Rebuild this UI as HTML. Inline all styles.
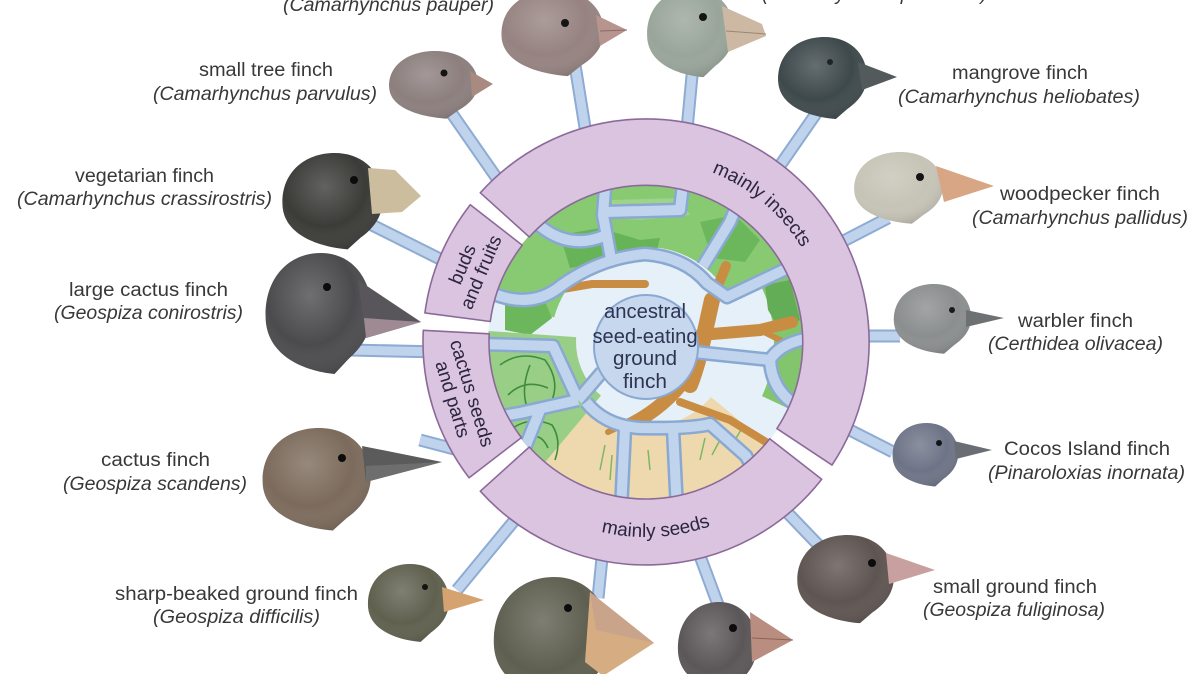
<!DOCTYPE html>
<html><head><meta charset="utf-8"><style>
html,body{margin:0;padding:0;background:#fff;}
svg{display:block;}
.lb{font-family:"Liberation Sans",Arial,sans-serif;font-size:19px;fill:#383838;}
.it{font-style:italic;}
.rt{font-family:"Liberation Sans",Arial,sans-serif;font-size:19px;fill:#2c2540;}
.ct{font-family:"Liberation Sans",Arial,sans-serif;font-size:20px;fill:#2d3452;}
</style></head><body>
<svg width="1200" height="674" viewBox="0 0 1200 674" xmlns="http://www.w3.org/2000/svg">
<defs>
<path id="head" d="M -0.95,0.15 C -1.0,-0.55 -0.55,-1.0 0.05,-1.0 C 0.6,-1.0 0.95,-0.6 0.98,-0.05 C 0.98,0.35 0.8,0.6 0.55,0.8 L 0.3,1.05 C -0.25,1.0 -0.9,0.75 -0.95,0.15 Z"/>
<radialGradient id="shade" cx="0.42" cy="0.35" r="0.75">
<stop offset="0" stop-color="#fff" stop-opacity="0.2"/>
<stop offset="0.55" stop-color="#fff" stop-opacity="0"/>
<stop offset="1" stop-color="#000" stop-opacity="0.22"/>
</radialGradient>
<clipPath id="sc"><circle cx="646" cy="342" r="158"/></clipPath>
<path id="tpI" d="M614.4,162.8 A182,182 0 0 1 828,342"/>
<path id="tpS" d="M520.7,491.4 A195,195 0 0 0 786.3,477.5"/>
</defs>
<rect width="1200" height="674" fill="#fff"/>

<!-- SCENE -->
<g clip-path="url(#sc)">
<circle cx="646" cy="342" r="160" fill="#e6f0f9"/>
<!-- top green -->
<path d="M486.6,299.3 A165,165 0 0 1 795.5,272.3 L732.1,301.9 A95,95 0 0 0 554.2,317.4 Z" fill="#88ca72"/>
<path d="M788.9,259.5 A165,165 0 0 1 795.5,411.7 L762.0,396.1 A128,128 0 0 0 756.8,278.0 Z" fill="#82c56d"/>
<polygon points="560,235 600,228 640,240 660,238 655,258 610,262 570,268" fill="#66b358"/>
<polygon points="700,222 735,215 760,240 745,262 712,258" fill="#6cb75c"/>
<polygon points="765,285 790,280 800,320 780,330 768,310" fill="#62ad55"/>
<polygon points="505,300 540,290 552,318 530,335 505,330" fill="#6cb75c"/>
<polygon points="612,200 680,198 690,215 640,220 612,218" fill="#9dd48a"/>
<!-- bottom beige -->
<path d="M772.4,448.1 A165,165 0 0 1 529.3,458.7 L584,400 A85,85 0 0 0 711,397 Z" fill="#eed9ae"/>
<!-- cactus lower left -->
<path d="M539.9,468.4 A165,165 0 0 1 481.4,330.5 L576.2,337.1 A70,70 0 0 0 601.0,395.6 Z" fill="#99ce87"/>
<g fill="none" stroke="#3e8c3c" stroke-width="1.6">
<path d="M500,365 Q520,350 545,360 Q560,380 552,400"/>
<path d="M508,395 Q525,378 548,388"/>
<path d="M510,430 Q530,415 552,425 Q562,440 555,460"/>
<path d="M530,365 Q520,390 528,410"/>
<path d="M525,440 Q540,430 548,448"/>
</g>
<!-- grass -->
<g fill="none" stroke="#7cb862" stroke-width="1.5">
<path d="M600,470 L605,445 M610,480 L612,455 M700,460 L705,438 M712,455 L720,440 M735,440 L742,428 M650,470 L648,450"/>
</g>
<!-- brown tree -->
<g fill="none" stroke="#c88c42" stroke-linecap="round" stroke-linejoin="round">
<path d="M690,385 C700,360 705,330 712,300" stroke-width="16"/>
<path d="M700,335 L760,330 L792,322" stroke-width="12"/>
<path d="M712,300 L726,266" stroke-width="10"/>
<path d="M645,284 L592,284 L545,292" stroke-width="8"/>
<path d="M686,378 C670,400 650,415 628,426" stroke-width="14"/>
<path d="M680,402 L730,420 L766,442" stroke-width="8"/>
<path d="M650,412 L608,432" stroke-width="6"/>
<path d="M760,330 L790,345" stroke-width="6"/>
</g>
<!-- phylogeny lines -->
<g fill="none" stroke="#8aa9d2" stroke-width="15" stroke-linejoin="round">
<path d="M485,290 Q530,312 562,285 Q600,258 645,254 Q685,257 707,283 L727,297 L805,260"/>
<path d="M611,259 L603,215 L606,175"/>
<path d="M540,226 Q570,250 604,236"/>
<path d="M605,212 L680,210 L684,175"/>
<path d="M703,266 L730,222 L745,185"/>
<path d="M694,352 L770,360 Q780,343 810,338"/>
<path d="M770,360 Q772,395 805,410"/>
<path d="M586,402 Q605,426 640,428 Q690,429 710,424 L746,456 L762,485"/>
<path d="M625,428 L621,510"/>
<path d="M673,429 L677,510"/>
<path d="M480,344 L553,346 L578,400"/>
<path d="M578,400 L520,413 L480,420"/>
<path d="M540,410 L522,455 L500,475"/>
<path d="M602,372 L578,400"/>
</g>
<g fill="none" stroke="#c0d4ed" stroke-width="10" stroke-linejoin="round">
<path d="M485,290 Q530,312 562,285 Q600,258 645,254 Q685,257 707,283 L727,297 L805,260"/>
<path d="M611,259 L603,215 L606,175"/>
<path d="M540,226 Q570,250 604,236"/>
<path d="M605,212 L680,210 L684,175"/>
<path d="M703,266 L730,222 L745,185"/>
<path d="M694,352 L770,360 Q780,343 810,338"/>
<path d="M770,360 Q772,395 805,410"/>
<path d="M586,402 Q605,426 640,428 Q690,429 710,424 L746,456 L762,485"/>
<path d="M625,428 L621,510"/>
<path d="M673,429 L677,510"/>
<path d="M480,344 L553,346 L578,400"/>
<path d="M578,400 L520,413 L480,420"/>
<path d="M540,410 L522,455 L500,475"/>
<path d="M602,372 L578,400"/>
</g>
<circle cx="646" cy="347" r="52" fill="#c7d7ee" stroke="#8aa9d2" stroke-width="2"/>
</g>
<text class="ct" x="645" y="318" text-anchor="middle" textLength="82" lengthAdjust="spacingAndGlyphs">ancestral</text>
<text class="ct" x="645" y="343" text-anchor="middle" textLength="105" lengthAdjust="spacingAndGlyphs">seed-eating</text>
<text class="ct" x="645" y="365" text-anchor="middle" textLength="64" lengthAdjust="spacingAndGlyphs">ground</text>
<text class="ct" x="645" y="388" text-anchor="middle" textLength="44" lengthAdjust="spacingAndGlyphs">finch</text>

<!-- STEMS -->
<g stroke-linecap="butt" fill="none">
<g stroke="#8eabd3" stroke-width="13">
<line x1="587" y1="140" x2="575" y2="65"/>
<line x1="686" y1="140" x2="693" y2="65"/>
<line x1="512" y1="200" x2="448" y2="108"/>
<line x1="770" y1="180" x2="822" y2="105"/>
<line x1="452" y1="265" x2="372" y2="225"/>
<line x1="830" y1="248" x2="888" y2="218"/>
<line x1="440" y1="352" x2="350" y2="350"/>
<line x1="850" y1="336" x2="900" y2="336"/>
<line x1="458" y1="450" x2="420" y2="440"/>
<line x1="840" y1="425" x2="893" y2="452"/>
<line x1="780" y1="505" x2="828" y2="555"/>
<line x1="697" y1="548" x2="720" y2="610"/>
<line x1="603" y1="548" x2="598" y2="598"/>
<line x1="523" y1="510" x2="457" y2="590"/>
</g>
<g stroke="#bfd3ec" stroke-width="9">
<line x1="587" y1="140" x2="575" y2="65"/>
<line x1="686" y1="140" x2="693" y2="65"/>
<line x1="512" y1="200" x2="448" y2="108"/>
<line x1="770" y1="180" x2="822" y2="105"/>
<line x1="452" y1="265" x2="372" y2="225"/>
<line x1="830" y1="248" x2="888" y2="218"/>
<line x1="440" y1="352" x2="350" y2="350"/>
<line x1="850" y1="336" x2="900" y2="336"/>
<line x1="458" y1="450" x2="420" y2="440"/>
<line x1="840" y1="425" x2="893" y2="452"/>
<line x1="780" y1="505" x2="828" y2="555"/>
<line x1="697" y1="548" x2="720" y2="610"/>
<line x1="603" y1="548" x2="598" y2="598"/>
<line x1="523" y1="510" x2="457" y2="590"/>
</g>
</g>

<!-- RING -->
<g fill="#dac4e0" stroke="#8b6a99" stroke-width="1.6" stroke-linejoin="round">
<path d="M480.3,192.8 A223,223 0 0 1 832.0,465.1 L776.9,428.6 A157,157 0 0 0 529.3,237.0 Z"/>
<path d="M821.7,479.3 A223,223 0 0 1 480.3,491.2 L529.3,447.0 A157,157 0 0 0 769.7,438.7 Z"/>
<path d="M469.1,477.8 A223,223 0 0 1 423.3,330.3 L489.2,333.8 A157,157 0 0 0 521.4,437.6 Z"/>
<path d="M424.9,312.9 A223,223 0 0 1 470.3,204.7 L522.3,245.3 A157,157 0 0 0 490.3,321.5 Z"/>
</g>
<text class="rt"><textPath href="#tpI" startOffset="50%" text-anchor="middle">mainly insects</textPath></text>
<text class="rt"><textPath href="#tpS" startOffset="50%" text-anchor="middle">mainly seeds</textPath></text>
<g transform="translate(471,268) rotate(-67)">
<text class="rt" x="0" y="-3" text-anchor="middle">buds</text>
<text class="rt" x="0" y="17" text-anchor="middle">and fruits</text>
</g>
<g transform="translate(463,396) rotate(73)">
<text class="rt" x="0" y="-3" text-anchor="middle">cactus seeds</text>
<text class="rt" x="0" y="17" text-anchor="middle">and parts</text>
</g>

<!-- BIRDS -->
<!-- pauper -->
<use href="#head" transform="translate(552,32) scale(53,42)" fill="#968381"/>
<use href="#head" transform="translate(552,32) scale(53,42)" fill="url(#shade)"/>
<polygon points="596,15 627,30 600,46" fill="#b8948f"/>
<line x1="600" y1="31" x2="627" y2="30" stroke="#8a6a66" stroke-width="1"/>
<circle cx="565" cy="23" r="4" fill="#141414"/>
<!-- psittacula -->
<use href="#head" transform="translate(690,32) scale(45,43)" fill="#99a59a"/>
<use href="#head" transform="translate(690,32) scale(45,43)" fill="url(#shade)"/>
<polygon points="722,6 762,24 766,36 728,52" fill="#cdb9a3"/>
<line x1="726" y1="31" x2="766" y2="34" stroke="#9a8672" stroke-width="1"/>
<circle cx="703" cy="17" r="4" fill="#141414"/>
<!-- small tree -->
<use href="#head" transform="translate(433,84) scale(46,33)" fill="#8c7f7e"/>
<use href="#head" transform="translate(433,84) scale(46,33)" fill="url(#shade)"/>
<polygon points="470,71 493,84 472,97" fill="#a88a80"/>
<circle cx="444" cy="73" r="3.5" fill="#141414"/>
<!-- mangrove -->
<use href="#head" transform="translate(822,77) scale(46,40)" fill="#3e494b"/>
<use href="#head" transform="translate(822,77) scale(46,40)" fill="url(#shade)"/>
<polygon points="858,62 897,77 862,90" fill="#525a5c"/>
<circle cx="830" cy="62" r="3" fill="#1e2424"/>
<!-- vegetarian -->
<use href="#head" transform="translate(332,200) scale(52,47)" fill="#3b3b38"/>
<use href="#head" transform="translate(332,200) scale(52,47)" fill="url(#shade)"/>
<polygon points="368,168 395,170 421,196 402,212 372,214" fill="#cbbd9d"/>
<circle cx="354" cy="180" r="4" fill="#0c0c0c"/>
<!-- woodpecker -->
<use href="#head" transform="translate(898,187) scale(46,35)" fill="#c6c4b6"/>
<use href="#head" transform="translate(898,187) scale(46,35)" fill="url(#shade)"/>
<polygon points="936,166 994,186 944,202" fill="#d8a585"/>
<circle cx="920" cy="177" r="4" fill="#141414"/>
<!-- large cactus -->
<use href="#head" transform="translate(318,312) scale(55,59)" fill="#4b4b4e"/>
<use href="#head" transform="translate(318,312) scale(55,59)" fill="url(#shade)"/>
<polygon points="358,280 421,322 366,338" fill="#58565b"/>
<polygon points="364,318 421,322 366,338" fill="#9f8a93"/>
<circle cx="327" cy="287" r="4" fill="#0c0c0c"/>
<!-- warbler -->
<use href="#head" transform="translate(932,318) scale(40,34)" fill="#8b8e8f"/>
<use href="#head" transform="translate(932,318) scale(40,34)" fill="url(#shade)"/>
<polygon points="966,310 1004,318 966,327" fill="#6e7172"/>
<circle cx="952" cy="310" r="3" fill="#1a1a1a"/>
<!-- cactus finch -->
<use href="#head" transform="translate(316,478) scale(56,50)" fill="#7c6b5c"/>
<use href="#head" transform="translate(316,478) scale(56,50)" fill="url(#shade)"/>
<polygon points="362,446 442,462 366,482" fill="#5c5b5c"/>
<polygon points="366,466 442,462 366,482" fill="#6f6e6e"/>
<circle cx="342" cy="458" r="4" fill="#0c0c0c"/>
<!-- cocos -->
<use href="#head" transform="translate(925,454) scale(34,31)" fill="#6e7487"/>
<use href="#head" transform="translate(925,454) scale(34,31)" fill="url(#shade)"/>
<polygon points="954,441 992,450 956,459" fill="#6a6d73"/>
<circle cx="939" cy="443" r="3" fill="#141414"/>
<!-- small ground -->
<use href="#head" transform="translate(845,578) scale(50,43)" fill="#5e5451"/>
<use href="#head" transform="translate(845,578) scale(50,43)" fill="url(#shade)"/>
<polygon points="886,553 935,570 889,584" fill="#c8a0a0"/>
<circle cx="872" cy="563" r="4" fill="#0c0c0c"/>
<!-- sharp-beaked -->
<use href="#head" transform="translate(408,602) scale(42,38)" fill="#5f604e"/>
<use href="#head" transform="translate(408,602) scale(42,38)" fill="url(#shade)"/>
<polygon points="442,587 484,600 444,612" fill="#d4a36f"/>
<circle cx="425" cy="587" r="3" fill="#141414"/>
<!-- large ground -->
<use href="#head" transform="translate(551,638) scale(60,61)" fill="#5e5f50"/>
<use href="#head" transform="translate(551,638) scale(60,61)" fill="url(#shade)"/>
<polygon points="590,592 654,643 603,676 585,662" fill="#d6ad82"/>
<polygon points="590,592 654,643 596,630" fill="#c9a48a"/>
<circle cx="568" cy="608" r="4" fill="#0c0c0c"/>
<!-- medium ground -->
<use href="#head" transform="translate(717,646) scale(41,44)" fill="#5b5658"/>
<use href="#head" transform="translate(717,646) scale(41,44)" fill="url(#shade)"/>
<polygon points="750,612 793,640 752,662" fill="#b98d80"/>
<line x1="752" y1="638" x2="793" y2="640" stroke="#8a6458" stroke-width="1"/>
<circle cx="733" cy="628" r="4" fill="#0c0c0c"/>

<!-- LABELS -->
<text class="lb it" x="283" y="11" textLength="211" lengthAdjust="spacingAndGlyphs">(Camarhynchus pauper)</text>
<text class="lb it" x="762" y="0" textLength="225" lengthAdjust="spacingAndGlyphs">(Camarhynchus psittacula)</text>

<text class="lb" x="199" y="76" textLength="134" lengthAdjust="spacingAndGlyphs">small tree finch</text>
<text class="lb it" x="153" y="100" textLength="224" lengthAdjust="spacingAndGlyphs">(Camarhynchus parvulus)</text>

<text class="lb" x="952" y="79" textLength="136" lengthAdjust="spacingAndGlyphs">mangrove finch</text>
<text class="lb it" x="898" y="103" textLength="242" lengthAdjust="spacingAndGlyphs">(Camarhynchus heliobates)</text>

<text class="lb" x="75" y="182" textLength="139" lengthAdjust="spacingAndGlyphs">vegetarian finch</text>
<text class="lb it" x="17" y="205" textLength="255" lengthAdjust="spacingAndGlyphs">(Camarhynchus crassirostris)</text>

<text class="lb" x="1000" y="200" textLength="160" lengthAdjust="spacingAndGlyphs">woodpecker finch</text>
<text class="lb it" x="972" y="224" textLength="216" lengthAdjust="spacingAndGlyphs">(Camarhynchus pallidus)</text>

<text class="lb" x="69" y="296" textLength="159" lengthAdjust="spacingAndGlyphs">large cactus finch</text>
<text class="lb it" x="54" y="319" textLength="189" lengthAdjust="spacingAndGlyphs">(Geospiza conirostris)</text>

<text class="lb" x="1018" y="327" textLength="115" lengthAdjust="spacingAndGlyphs">warbler finch</text>
<text class="lb it" x="988" y="350" textLength="175" lengthAdjust="spacingAndGlyphs">(Certhidea olivacea)</text>

<text class="lb" x="101" y="466" textLength="109" lengthAdjust="spacingAndGlyphs">cactus finch</text>
<text class="lb it" x="63" y="490" textLength="184" lengthAdjust="spacingAndGlyphs">(Geospiza scandens)</text>

<text class="lb" x="1004" y="455" textLength="166" lengthAdjust="spacingAndGlyphs">Cocos Island finch</text>
<text class="lb it" x="988" y="479" textLength="197" lengthAdjust="spacingAndGlyphs">(Pinaroloxias inornata)</text>

<text class="lb" x="933" y="593" textLength="164" lengthAdjust="spacingAndGlyphs">small ground finch</text>
<text class="lb it" x="923" y="616" textLength="182" lengthAdjust="spacingAndGlyphs">(Geospiza fuliginosa)</text>

<text class="lb" x="115" y="600" textLength="243" lengthAdjust="spacingAndGlyphs">sharp-beaked ground finch</text>
<text class="lb it" x="153" y="623" textLength="167" lengthAdjust="spacingAndGlyphs">(Geospiza difficilis)</text>
</svg>
</body></html>
